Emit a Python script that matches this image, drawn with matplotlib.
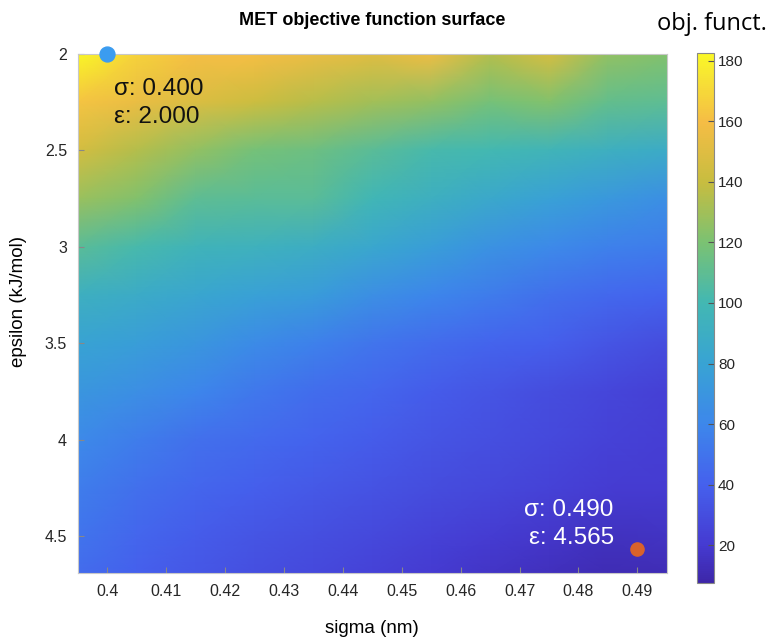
import numpy as np
import matplotlib
matplotlib.use("Agg")
import matplotlib.pyplot as plt
from matplotlib.colors import LinearSegmentedColormap

# grid
sigma = [0.395, 0.405, 0.415, 0.425, 0.435, 0.445, 0.455, 0.465, 0.475, 0.485, 0.495]
epsilon = [2.00, 2.25, 2.50, 2.75, 3.00, 3.25, 3.50, 3.75, 4.00, 4.25, 4.50, 4.69]
obj = [
    [182, 168, 160, 160, 155, 150, 156, 135, 146, 126, 122],
    [162, 155, 148, 142, 136, 130, 126, 118, 122, 112, 110],
    [145, 135, 126, 118, 115, 108, 102, 100, 97, 92, 88],
    [128, 122, 110, 108, 108, 98, 92, 85, 78, 72, 66],
    [108, 102, 96, 94, 90, 84, 76, 68, 62, 57, 54],
    [92, 88, 83, 78, 75, 66, 60, 54, 48, 44, 41],
    [80, 76, 71, 63, 57, 51, 46, 42, 39, 34, 30],
    [71, 66, 60, 52, 47, 43, 38, 34, 30, 26, 23],
    [62, 55, 48, 45, 41, 38, 34, 31, 28, 24, 22],
    [55, 48, 43, 39, 36, 33, 30, 27, 24, 21, 20],
    [50, 43, 38, 34, 31, 28, 24, 21, 18, 15, 16],
    [46, 40, 35, 31, 28, 24, 20, 17, 14, 11, 12],
]
start_point = (0.400, 2.000)
best_point = (0.490, 4.565)
x_ticks = [0.40, 0.41, 0.42, 0.43, 0.44, 0.45, 0.46, 0.47, 0.48, 0.49]
y_ticks = [2, 2.5, 3, 3.5, 4, 4.5]
cbar_ticks = [20, 40, 60, 80, 100, 120, 140, 160, 180]

# parula-like colormap, colours picked off the reference colour bar
parula = LinearSegmentedColormap.from_list("parula", [
    (0.000, (0.24, 0.15, 0.66)),
    (0.071, (0.27, 0.23, 0.82)),
    (0.186, (0.27, 0.38, 0.93)),
    (0.300, (0.24, 0.53, 0.92)),
    (0.414, (0.22, 0.64, 0.83)),
    (0.529, (0.26, 0.72, 0.70)),
    (0.643, (0.48, 0.76, 0.45)),
    (0.757, (0.78, 0.74, 0.25)),
    (0.871, (0.96, 0.74, 0.27)),
    (0.960, (0.97, 0.90, 0.20)),
    (1.000, (0.98, 0.97, 0.15)),
])

fig = plt.figure(figsize=(7.7, 6.41), dpi=100)
ax = fig.add_axes([0.1013, 0.106, 0.7647, 0.8098])
cax = fig.add_axes([0.905, 0.0905, 0.022, 0.8265])

mesh = ax.pcolormesh(sigma, epsilon, np.array(obj), cmap=parula, shading="gouraud",
                     vmin=7.5, vmax=182.5)
ax.set_xlim(0.395, 0.495)
ax.set_ylim(4.69, 2.0)

ax.scatter([start_point[0]], [start_point[1]], s=115, color="#3b9cf0", zorder=5, clip_on=False)
ax.scatter([best_point[0]], [best_point[1]], s=90, color="#d9622b", zorder=5, clip_on=False)

# annotations, one line each
txt = dict(fontsize=17.5, va="baseline", family="Liberation Sans")
ax.text(0.4011, 2.212, f"σ: {start_point[0]:.3f}", color="#111111", ha="left", **txt)
ax.text(0.4011, 2.357, f"ε: {start_point[1]:.3f}", color="#111111", ha="left", **txt)
ax.text(0.4860, 4.395, f"σ: {best_point[0]:.3f}", color="white", ha="right", **txt)
ax.text(0.4860, 4.540, f"ε: {best_point[1]:.3f}", color="white", ha="right", **txt)

ax.set_xticks(x_ticks)
ax.set_xticklabels([f"{t:g}" for t in x_ticks])
ax.set_yticks(y_ticks)
ax.set_yticklabels([f"{t:g}" for t in y_ticks])
ax.tick_params(direction="in", length=4, color="#888888", labelsize=11.5, labelcolor="#262626", pad=8)
for s in ax.spines.values():
    s.set_color("#c8c8c8")
    s.set_linewidth(0.8)

cb = fig.colorbar(mesh, cax=cax, ticks=cbar_ticks)
cb.ax.tick_params(direction="in", length=4, color="#555555", labelsize=11, labelcolor="#262626", pad=3)
cb.outline.set_edgecolor("#888888")
cb.outline.set_linewidth(0.8)

fig.text(0.483, 0.968, "MET objective function surface", ha="center", va="center",
         fontsize=13, fontweight="bold", family="Liberation Sans")
fig.text(0.925, 0.962, "obj. funct.", ha="center", va="center", fontsize=17, family="Open Sans")
fig.text(0.483, 0.02, "sigma (nm)", ha="center", va="center", fontsize=13.5, family="Liberation Sans")
fig.text(0.024, 0.53, "epsilon (kJ/mol)", ha="center", va="center", rotation=90,
         fontsize=13.5, family="Liberation Sans")

for lab in ax.get_xticklabels() + ax.get_yticklabels() + cb.ax.get_yticklabels():
    lab.set_family("Liberation Sans")

fig.savefig("out.png", dpi=100)
